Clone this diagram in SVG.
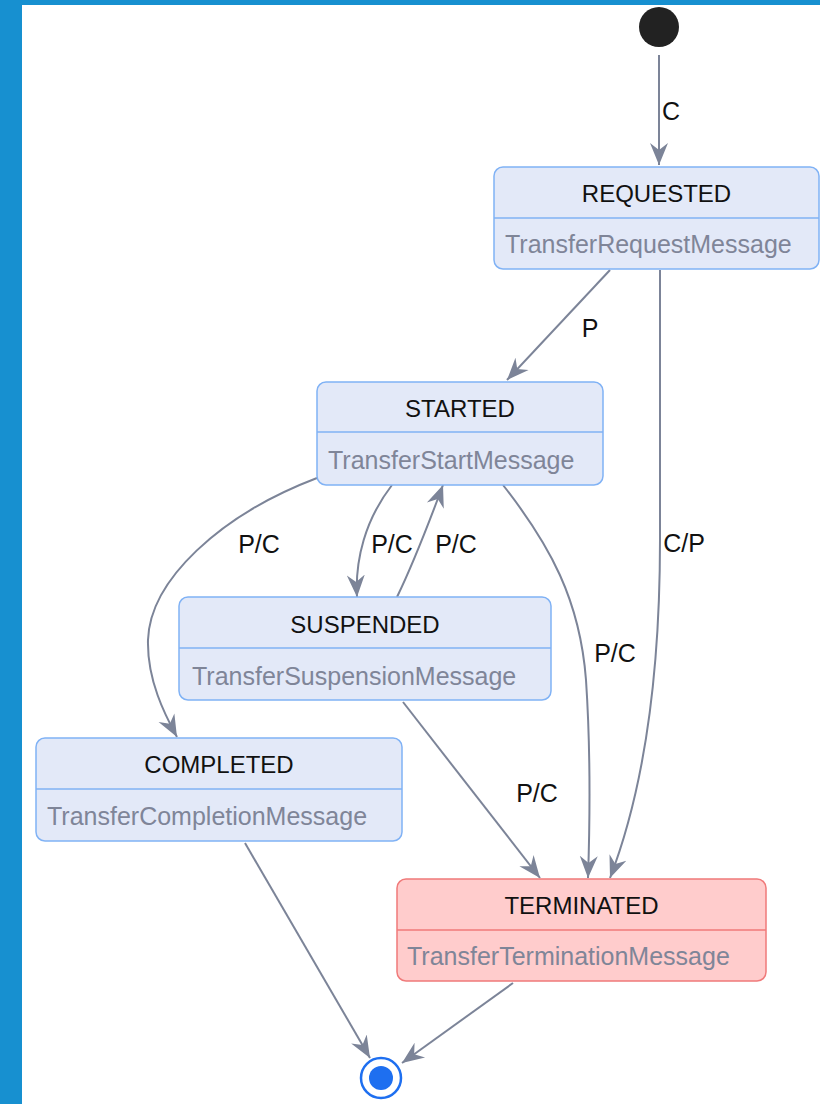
<svg xmlns="http://www.w3.org/2000/svg" width="820" height="1104" viewBox="0 0 820 1104">
<defs>
<marker id="arr" markerUnits="userSpaceOnUse" markerWidth="24" markerHeight="22" refX="22" refY="11" orient="auto" viewBox="0 0 24 22">
<path d="M22,11 L0,2 L7,11 L0,20 Z" fill="#7c8498"/>
</marker>
<style>
.st{fill:#e3e9f8;stroke:#80b2f5;stroke-width:1.5}
.term{fill:#ffcccc;stroke:#f07a7a;stroke-width:1.5}
.div{stroke:#80b2f5;stroke-width:1.5}
.divt{stroke:#f07a7a;stroke-width:1.5}
.t{font-family:"Liberation Sans",Arial,sans-serif;font-size:24px;fill:#111;text-anchor:middle}
.s{font-family:"Liberation Sans",Arial,sans-serif;font-size:25px;fill:#7f8598}
.e{fill:none;stroke:#7c8498;stroke-width:2;marker-end:url(#arr)}
.l{font-family:"Liberation Sans",Arial,sans-serif;font-size:25px;fill:#111;text-anchor:middle}
</style>
</defs>
<rect x="0" y="0" width="820" height="1104" fill="#ffffff"/>
<rect x="0" y="0" width="820" height="5" fill="#1790d0"/>
<rect x="0" y="0" width="22" height="1104" fill="#1790d0"/>

<g id="connectors">
<path class="e" d="M659,55 L659,165"/>
<path class="e" d="M610,270 L507,380"/>
<path class="e" d="M660,270 L660,540 C660,690 640,800 610,878"/>
<path class="e" d="M503,485 C550,545 580,600 586,680 C590,740 590,820 588,878"/>
<path class="e" d="M392,485 C365,520 355,560 357,597"/>
<path class="e" d="M397,597 C415,560 430,520 443,485"/>
<path class="e" d="M317,478 C220,515 150,580 148,640 C147,680 165,715 177,737"/>
<path class="e" d="M403,702 L540,878"/>
<path class="e" d="M245,843 L370,1058"/>
<path class="e" d="M513,983 L402,1063"/>
<text class="l" x="671" y="120">C</text>
<text class="l" x="590" y="337">P</text>
<text class="l" x="684" y="552">C/P</text>
<text class="l" x="615" y="662">P/C</text>
<text class="l" x="537" y="802">P/C</text>
<text class="l" x="259" y="553">P/C</text>
<text class="l" x="392" y="553">P/C</text>
<text class="l" x="456" y="553">P/C</text>
</g>

<g id="start">
<circle cx="659" cy="27" r="20" fill="#222222"/>
</g>

<g id="requested">
<rect class="st" x="494" y="167" width="325" height="102" rx="9"/>
<line class="div" x1="494" y1="218" x2="819" y2="218"/>
<text class="t" x="656.5" y="202">REQUESTED</text>
<text class="s" x="505" y="253">TransferRequestMessage</text>
</g>

<g id="started">
<rect class="st" x="317" y="382" width="286" height="103" rx="9"/>
<line class="div" x1="317" y1="432" x2="603" y2="432"/>
<text class="t" x="460" y="417">STARTED</text>
<text class="s" x="328" y="469">TransferStartMessage</text>
</g>

<g id="suspended">
<rect class="st" x="179" y="597" width="372" height="103" rx="9"/>
<line class="div" x1="179" y1="648" x2="551" y2="648"/>
<text class="t" x="365" y="633">SUSPENDED</text>
<text class="s" x="192" y="685">TransferSuspensionMessage</text>
</g>

<g id="completed">
<rect class="st" x="36" y="738" width="366" height="103" rx="9"/>
<line class="div" x1="36" y1="789" x2="402" y2="789"/>
<text class="t" x="219" y="773">COMPLETED</text>
<text class="s" x="47" y="825">TransferCompletionMessage</text>
</g>

<g id="terminated">
<rect class="term" x="397" y="879" width="369" height="102" rx="9"/>
<line class="divt" x1="397" y1="930" x2="766" y2="930"/>
<text class="t" x="581.5" y="914">TERMINATED</text>
<text class="s" x="407" y="965">TransferTerminationMessage</text>
</g>

<g id="end">
<circle cx="381" cy="1078" r="20" fill="#ffffff" stroke="#1e6ff0" stroke-width="2.5"/>
<circle cx="381" cy="1078" r="12" fill="#1e6ff0"/>
</g>
</svg>
